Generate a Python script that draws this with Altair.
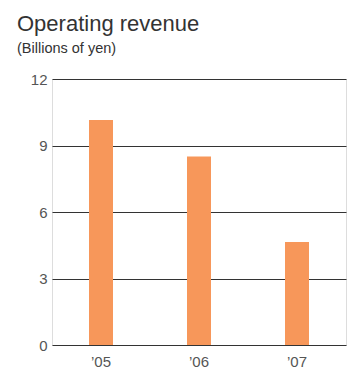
import altair as alt
import pandas as pd

# Operating revenue by fiscal year, billions of yen
years = ["\u201905", "\u201906", "\u201907"]
revenue = [10.15, 8.5, 4.65]

df = pd.DataFrame({"year": years, "revenue": revenue})

chart = alt.Chart(df).mark_bar(size=24, color="#F7975A").encode(
    x=alt.X(
        "year:N",
        sort=years,
        scale=alt.Scale(paddingInner=0, paddingOuter=0),
        axis=alt.Axis(
            title=None, labelAngle=0, domain=False, ticks=False,
            labelFontSize=15, labelColor="#555555", labelPadding=9,
            labelFont="Liberation Sans",
        ),
    ),
    y=alt.Y(
        "revenue:Q",
        scale=alt.Scale(domain=[0, 12], nice=False),
        axis=alt.Axis(
            title=None, values=[0, 3, 6, 9, 12], domain=False, ticks=False,
            grid=True, gridColor="#333333", gridWidth=1, gridOpacity=1,
            labelFontSize=15, labelColor="#555555", labelPadding=5,
            labelFont="Liberation Sans",
        ),
    ),
).properties(
    width=294,
    height=266,
    title=alt.TitleParams(
        text="Operating revenue",
        subtitle="(Billions of yen)",
        anchor="start",
        frame="group",
        dx=-35,
        offset=16,
        font="Liberation Sans",
        fontSize=22,
        fontWeight="normal",
        color="#333333",
        subtitleFont="Liberation Sans",
        subtitleFontSize=14.5,
        subtitleColor="#333333",
        subtitlePadding=6,
    ),
).configure_view(stroke=None).configure(
    autosize=alt.AutoSizeParams(type="none"),
    padding={"left": 52, "top": 79, "right": 5, "bottom": 27},
    background="white",
)

chart.save("out.html", embed_options={"renderer": "svg", "actions": False})
